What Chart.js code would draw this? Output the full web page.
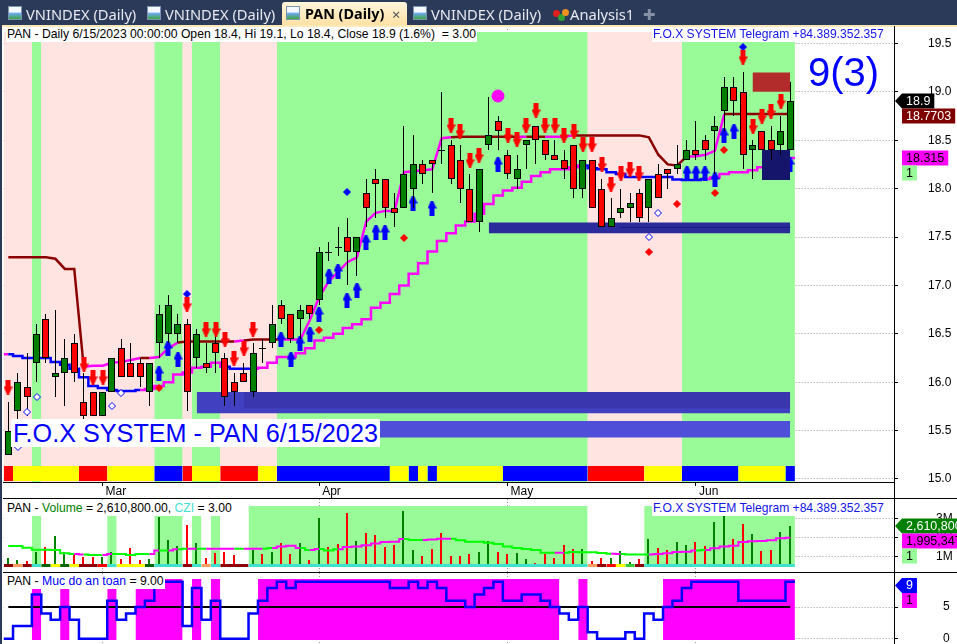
<!DOCTYPE html>
<html>
<head>
<meta charset="utf-8">
<title>PAN (Daily)</title>
<script src="https://cdn.jsdelivr.net/npm/chart.js@4/dist/chart.umd.min.js"></script>
<style>
    html, body { margin: 0; padding: 0; background: #fff; overflow: hidden; }
    #page { position: relative; width: 957px; height: 644px; overflow: hidden; font-family: "Liberation Sans", Arial, sans-serif; }
    canvas { position: absolute; left: 0; }
    .tabbar { position: absolute; left: 0; top: 0; width: 957px; height: 25px; background: #2c3a5a; }
    .tabline { position: absolute; left: 0; top: 25px; width: 957px; height: 2px; background: #ffe9b8; }
    .tab { position: absolute; top: 4px; font: 14.7px/20px "Noto Sans", sans-serif; color: #e6e9f0; white-space: nowrap; }
    .tab.active { color: #000; font-weight: bold; font-size: 14.4px; }
    .activebg { position: absolute; left: 282px; top: 2px; width: 125px; height: 24px; background: linear-gradient(#fff6dc, #ffe0a2); border-radius: 3px 3px 0 0; }
    .icon { position: absolute; top: 6px; width: 14px; height: 14px; background: linear-gradient(#f4f8ff 40%, #6aa6e8 55%, #3ca83c); border: 1px solid #7d92b5; box-sizing: border-box; }
    .dot { position: absolute; width: 7px; height: 7px; border-radius: 50%; }
    .hdr { position: absolute; background: #fff; font-size: 12.2px; line-height: 15px; height: 15px; white-space: nowrap; color: #000; padding: 0 1px; }
    .blue { color: #1414e6; font-size: 12.1px; }
    .hline, .vline { position: absolute; background: #000; }
    #waves { position: absolute; left: 808px; top: 48px; font-size: 40px; line-height: 48px; color: #0000ff; }
    #stamp { position: absolute; left: 11px; top: 419px; height: 28px; line-height: 28px; width: 369px; background: #fff; color: #0000ff; font-size: 25.2px; white-space: nowrap; padding-left: 2px; box-sizing: border-box; }
</style>
</head>
<body>
<div id="page">
    <canvas id="priceChart" width="957" height="456" style="top:26px"></canvas>
    <canvas id="monthChart" width="957" height="16" style="top:482px"></canvas>
    <canvas id="volumeChart" width="957" height="73" style="top:499px"></canvas>
    <canvas id="safetyChart" width="957" height="71" style="top:573px"></canvas>

    <div class="tabbar"></div>
    <div class="activebg"></div>
    <div class="tabline"></div>
    <div class="icon" style="left:8px"></div><div class="tab" style="left:26px">VNINDEX (Daily)</div>
    <div class="icon" style="left:147px"></div><div class="tab" style="left:165px">VNINDEX (Daily)</div>
    <div class="icon" style="left:286px"></div><div class="tab active" style="left:305px">PAN (Daily)</div>
    <div class="tab" style="left:392px;color:#555">×</div>
    <div class="icon" style="left:413px"></div><div class="tab" style="left:431px">VNINDEX (Daily)</div>
    <div class="dot" style="left:553px;top:10px;background:#e02020"></div>
    <div class="dot" style="left:558px;top:14px;background:#30a030"></div>
    <div class="dot" style="left:562px;top:9px;background:#f09020"></div>
    <div class="tab" style="left:570px">Analysis1</div>
    <div class="tab" style="left:643px;color:#8490a8">✚</div>

    <div class="vline" style="left:0;top:25px;width:2px;height:619px;background:#2c3a5a"></div>

    <div class="hdr" style="left:6px;top:27px">PAN - Daily 6/15/2023 00:00:00 Open 18.4, Hi 19.1, Lo 18.4, Close 18.9 (1.6%) &nbsp;= 3.00</div>
    <div class="hdr blue" style="left:652px;top:27px">F.O.X SYSTEM Telegram +84.389.352.357</div>
    <div id="waves">9(3)</div>
    <div id="stamp">F.O.X SYSTEM - PAN 6/15/2023</div>

    <div class="hdr" style="left:6px;top:501px">PAN - <span style="color:#008000">Volume</span> = 2,610,800.00, <span style="color:#40e0d0">CZI</span> = 3.00</div>
    <div class="hdr blue" style="left:652px;top:501px">F.O.X SYSTEM Telegram +84.389.352.357</div>
    <div class="hdr" style="left:6px;top:574px">PAN - <span style="color:#0000ff">Muc do an toan</span> = 9.00</div>

    <div class="hline" style="left:3px;top:482px;width:891px;height:1px"></div>
    <div class="hline" style="left:3px;top:498px;width:954px;height:1px"></div>
    <div class="hline" style="left:3px;top:572px;width:954px;height:1px"></div>
    <div class="vline" style="left:894px;top:26px;width:1px;height:618px"></div>
</div>

<script>
// Candles, one entry per session (bar index 0 = first bar on the chart)
const candleOpen = [15.25,15.7,15.95,16.2,16.65,16.05,16.1,16.4,15.8,15.9,15.65,15.9,16.35,16.2,16.2,15.9,16.4,16.5,16.5,16.6,16.25,16.2,16.4,16.25,16.0,16.1,15.9,16.35,16.4,16.8,16.7,16.65,16.8,16.85,17.35,17.4,17.5,17.35,17.95,18.1,18.1,17.8,17.8,18.0,18.25,18.3,18.4,18.45,18.3,18.0,17.65,18.45,18.7,18.35,18.1,18.45,18.65,18.5,18.35,18.3,18.45,18.0,18.3,18.0,17.6,17.75,17.8,17.95,17.8,18.15,18.2,18.2,18.3,18.4,18.5,18.6,18.8,19.05,19.0,18.4,18.6,18.5,18.45,18.4];
const candleHigh = [15.8,16.1,16.3,16.6,16.7,16.75,16.45,16.5,16.1,15.9,15.9,16.25,16.45,16.4,16.25,16.2,16.8,16.9,16.7,16.65,16.55,16.4,16.5,16.3,16.1,16.2,16.4,16.45,16.8,16.85,16.7,16.8,16.8,17.4,17.45,17.6,17.7,17.5,18.1,18.2,18.1,17.95,18.65,18.55,18.3,18.3,19.0,18.5,18.45,18.15,18.2,18.95,18.75,18.4,18.35,18.5,18.65,18.5,18.5,18.4,18.45,18.3,18.3,18.1,17.9,18.0,17.95,18.0,18.1,18.25,18.2,18.45,18.5,18.7,18.55,18.75,19.15,19.15,19.2,18.5,18.6,18.65,18.75,19.1];
const candleLow = [15.25,15.55,15.65,16.0,16.2,15.85,15.75,16.0,15.55,15.65,15.65,15.9,16.05,16.05,15.95,15.75,16.25,16.4,16.4,15.7,16.15,16.1,16.1,15.75,15.75,16.0,15.85,16.2,16.35,16.6,16.4,16.45,16.65,16.8,17.25,17.3,17.0,17.1,17.6,17.7,17.7,17.6,17.8,17.8,18.05,17.95,18.25,18.05,17.85,17.65,17.55,18.4,18.4,18.1,18.0,18.2,18.25,18.3,18.3,18.1,17.9,17.9,17.8,17.6,17.6,17.7,17.65,17.65,17.65,17.9,18.0,18.15,18.3,18.3,18.3,18.15,18.6,18.75,18.2,18.1,18.4,18.3,18.35,18.4];
const candleClose = [15.5,16.0,15.85,16.5,16.25,16.1,16.25,16.1,15.65,15.65,15.9,16.25,16.05,16.05,16.05,16.2,16.7,16.8,16.6,15.9,16.5,16.15,16.3,15.85,15.9,16.0,16.3,16.35,16.6,16.65,16.45,16.75,16.7,17.35,17.35,17.4,17.35,17.5,17.8,18.05,17.8,17.75,18.15,18.25,18.15,18.25,18.4,18.1,18.0,17.65,18.2,18.55,18.6,18.15,18.2,18.5,18.5,18.35,18.3,18.2,18.0,18.3,17.8,17.6,17.7,17.8,17.85,17.7,18.1,17.9,18.15,18.25,18.4,18.35,18.4,18.65,19.05,18.9,18.35,18.45,18.4,18.4,18.6,18.9];

// Trailing lines on the price pane
const upperLine = [17.29,17.29,17.29,17.29,17.29,17.275,17.17,17.17,16.16,16.17,16.17,16.2,16.21,16.23,16.25,16.25,16.26,16.35,16.41,16.42,16.42,16.42,16.42,16.42,16.42,16.43,16.44,16.44,16.44,16.44,16.44,16.44,16.64,16.88,17.04,17.14,17.24,17.29,17.66,17.75,17.77,17.77,18.17,18.18,18.19,18.2,18.52,18.53,18.535,18.535,18.535,18.535,18.535,18.535,18.535,18.535,18.535,18.535,18.535,18.535,18.55,18.55,18.55,18.55,18.55,18.55,18.55,18.55,18.53,18.35,18.25,18.24,18.33,18.335,18.35,18.39,18.77,18.77,18.77,18.77,18.77,18.77,18.77,18.77];
const lowerLine = [16.29,16.27,16.25,16.25,16.25,16.21,16.18,16.14,16.05,15.96,15.94,15.92,15.91,15.91,15.92,15.93,15.96,16.0,16.08,16.1,16.15,16.16,16.2,16.16,16.14,16.14,16.14,16.15,16.2,16.26,16.26,16.3,16.35,16.43,16.46,16.5,16.56,16.6,16.65,16.77,16.82,16.91,17.0,17.12,17.23,17.35,17.46,17.54,17.62,17.66,17.74,17.84,17.93,17.98,18.01,18.07,18.13,18.17,18.2,18.2,18.22,18.24,18.21,18.2,18.17,18.15,18.12,18.12,18.12,18.12,18.12,18.095,18.09,18.09,18.1,18.115,18.15,18.17,18.17,18.19,18.22,18.225,18.27,18.315];
const upperMagenta = [[8,13],[15,17],[24,24],[29,46],[54,54],[57,59],[72,75]];
const lowerBlue = [[0,13],[23,25],[61,73]];

// Signal markers: bar index and price
const sellIdx = [0,8,9,10,19,21,22,23,24,25,26,47,48,49,50,53,54,55,56,57,58,59,60,61,62,63,64,65,66,67,78,79,80,81,82];
const sellVal = [15.95,16.19,16.05,16.05,16.81,16.55,16.55,16.45,16.25,16.35,16.55,18.66,18.6,18.3,18.35,18.55,18.51,18.66,18.81,18.66,18.66,18.55,18.6,18.46,18.46,18.25,18.05,18.16,18.2,18.16,19.36,18.65,18.75,18.8,18.9];
const buyIdx = [16,17,18,29,30,31,32,33,34,35,36,37,38,39,40,43,45,52,72,73,74,75,76,77,83];
const buyVal = [16.1,16.35,16.24,16.45,16.24,16.4,16.5,16.7,17.1,17.15,16.85,16.95,17.45,17.55,17.55,17.85,17.8,18.25,18.16,18.16,18.16,18.1,18.55,18.6,18.25];
const hollowIdx = [1,2,3,11,12,68,69];
const hollowVal = [15.33,15.69,15.85,15.75,15.89,17.5,17.75];
const redDiamondIdx = [16,33,42,68,71,75,76];
const redDiamondVal = [15.94,16.54,17.49,17.35,17.84,17.95,18.4];
const blueDiamondIdx = [19,36,78];
const blueDiamondVal = [16.91,17.96,19.46];
const pinkDotIdx = [52];
const pinkDotVal = [18.96];

// Background state of each pane, as inclusive bar ranges
const lastBar = 83;
const priceGreen = [[3,3],[16,18],[20,22],[29,61],[72,83]];
const volumeGreen = [[3,3],[11,11],[16,18],[20,20],[22,22],[26,61],[68,83]];

// Coloured strip at the bottom of the price pane
const stripRed = [[0,0],[8,10],[19,19],[23,26],[62,67]];
const stripYellow = [[1,7],[11,15],[20,22],[27,28],[41,42],[44,44],[46,52],[68,71],[78,82]];
const stripBlue = [[16,18],[29,40],[43,43],[45,45],[53,61],[72,77],[83,83]];

// Support and resistance boxes: first bar, last bar, low, high
const boxFrom = [20,25,36,51,79,80];
const boxTo = [83,83,83,83,83,83];
const boxLow = [15.68,15.73,15.43,17.54,19.0,18.09];
const boxHigh = [15.9,15.9,15.6,17.65,19.2,18.4];
const boxColors = ['#4040c0','#3a36ae','#4e4ed8','#2b2b9b','#b22c2c','#15156b'];

// Volume pane, values in millions of shares
const volume = [0.89,0.81,0.75,1.24,1.47,2.07,1.23,1.12,0.95,0.95,0.95,1.23,0.86,1.44,0.81,0.86,3.07,1.86,1.54,2.65,1.7,0.91,1.17,1.23,1.07,0.5,1.33,1.12,1.23,1.68,1.12,1.7,0.81,3.03,1.47,1.65,3.28,1.8,2.23,2.12,1.49,1.6,3.38,1.33,1.02,1.38,2.23,1.02,1.02,1.12,1.23,1.8,1.23,1.12,1.17,0.86,0.65,1.12,0.91,1.6,1.38,1.38,0.75,0.91,0.91,1.28,0.7,0.86,1.91,1.44,1.33,1.75,1.6,1.75,1.54,2.8,3.12,1.91,2.7,2.17,1.28,1.33,2.28,2.61];
const volumeAvg = [1.54,1.54,1.45,1.35,1.35,1.33,1.16,1.12,1.10,1.07,1.07,1.12,1.12,1.07,1.12,1.12,1.30,1.30,1.37,1.40,1.40,1.40,1.40,1.40,1.40,1.40,1.40,1.40,1.44,1.51,1.56,1.44,1.33,1.38,1.31,1.37,1.49,1.51,1.58,1.68,1.75,1.77,1.91,1.86,1.86,1.89,1.93,1.93,1.84,1.77,1.77,1.72,1.65,1.52,1.44,1.38,1.33,1.19,1.19,1.19,1.23,1.21,1.21,1.17,1.14,1.12,1.09,1.09,1.09,1.12,1.16,1.23,1.24,1.30,1.33,1.42,1.52,1.56,1.75,1.79,1.81,1.84,1.95,1.98];
const volumeUp = [0,1,3,5,6,10,11,15,16,17,18,20,26,28,31,33,37,42,43,50,51,54,55,61,64,65,66,68,71,72,75,76,79,82,83];
const avgMagenta = [[7,7],[10,10],[15,15],[17,17],[19,19],[21,23],[25,26],[28,30],[32,32],[35,41],[44,46],[58,58],[64,64],[68,72],[74,83]];
const volStripDarkRed = [[0,0],[2,2],[8,9],[19,19],[23,25],[63,63],[67,67]];
const volStripOrange = [[1,1],[21,21],[62,62]];
const volStripRed = [[10,10],[64,64]];
const volStripDarkGreen = [[4,4],[6,6],[15,15]];
const volStripYellow = [[5,5],[7,7],[12,14],[65,65]];
const volStripGreen = [[66,66]];
const volStripTurquoise = [[3,3],[11,11],[16,18],[20,20],[22,22],[26,61],[68,83]];

// Muc do an toan pane
const safety = [0,2,2,7,4,3,5,3,0,0,0,6,3,4,5,6,9,9,9,2,8,3,6,0,0,0,4,6,8,9,8,9,9,9,9,9,9,9,9,9,9,8,8,9,8,9,8,6,6,5,7,8,9,6,6,7,7,6,5,4,3,5,1,0,0,0,1,0,4,3,5,6,8,9,9,9,9,9,6,6,6,6,6,9];
const safetyZones = [[3,3],[6,6],[11,11],[14,18],[20,20],[22,22],[27,58],[61,61],[70,83]];
const safetyLevel = [5,5];
const safetyLevelBars = [0,83];

// Axis ticks
const priceTicks = [15,15.5,16,16.5,17,17.5,18,18.5,19,19.5];
const volumeTicks = [1,2,3];
const volumeTickLabels = ['1M','2M','3M'];
const safetyTicks = [0,5];
const monthBars = [10,33,53,73];
const monthLabels = ['Mar','Apr','May','Jun'];

// Tags in the right margin
const priceTagTexts = ['18.9','18.7703','18.315','1'];
const priceTagValues = [18.9,18.7703,18.315,18.315];
const volumeTagTexts = ['2,610,800','1,995,347','1'];
const volumeTagValues = [2.61,1.995,1.995];
const safetyTagTexts = ['9','1'];
const safetyTagValues = [9,9];

const RED = '#ff0000', GREEN = '#008000', BLUE = '#0000ff', MAGENTA = '#ff00ff', DARKRED = '#8b0000';
const PALEGREEN = '#98fb98', MISTY = '#ffe4e1', TURQUOISE = '#40e0d0';
const FONT = { family: '"Liberation Sans", Arial, sans-serif', size: 12 };
const X_MIN = -0.5, X_MAX = 94.02;

// Build a small arrow bitmap used as a point style
function makeArrow(color, up) {
    const c = document.createElement('canvas');
    c.width = 9; c.height = 15;
    const g = c.getContext('2d');
    if (!up) { g.translate(0, 15); g.scale(1, -1); }
    g.fillStyle = color;
    g.beginPath();
    g.moveTo(3.5, 0); g.lineTo(5.5, 0); g.lineTo(9, 8); g.lineTo(7, 8); g.lineTo(7, 15);
    g.lineTo(2, 15); g.lineTo(2, 8); g.lineTo(0, 8);
    g.closePath();
    g.fill();
    return c;
}

// Filled rectangle in data units, done as a line dataset filled down to a value
function fillBand(from, to, low, high, color, order) {
    return {
        type: 'line', order,
        data: [{ x: from, y: high }, { x: to, y: high }],
        fill: { value: low },
        backgroundColor: color, borderWidth: 0, pointRadius: 0
    };
}

function rangeBands(ranges, low, high, color, order) {
    return ranges.map(r => fillBand(r[0] - 0.5, r[1] + 0.5, low, high, color, order));
}

function inRanges(ranges, i) {
    return ranges.some(r => i >= r[0] && i <= r[1]);
}

function markers(idx, val, style, radius, fillColor, edgeColor, order) {
    return {
        type: 'scatter', order,
        data: idx.map((x, k) => ({ x, y: val[k] })),
        pointStyle: style, pointRadius: radius,
        backgroundColor: fillColor, borderColor: edgeColor, borderWidth: 1
    };
}

// Stepped lines run from the left edge of the first bar to the right edge of the last
function stepPoints(values) {
    const pts = values.map((y, x) => ({ x, y }));
    return [{ x: -0.5, y: values[0] }, ...pts, { x: lastBar + 0.5, y: values[values.length - 1] }];
}

function xAxis() {
    return {
        type: 'linear', min: X_MIN, max: X_MAX, offset: false,
        afterBuildTicks: s => { s.ticks = monthBars.map(value => ({ value })); },
        afterFit: s => { s.height = 0; s.paddingLeft = 0; s.paddingRight = 0; },
        border: { display: false, dash: [1, 2] },
        grid: { offset: false, color: '#999', drawTicks: false },
        ticks: { display: false }
    };
}

function yAxis(min, max, tickValues, padding, format) {
    return {
        type: 'linear', position: 'right', min, max,
        afterBuildTicks: s => { s.ticks = tickValues.map(value => ({ value })); },
        afterFit: s => { s.width = 63; s.paddingTop = 0; s.paddingBottom = 0; },
        border: { display: false, dash: [1, 2] },
        grid: { color: '#999', tickLength: 4, tickColor: '#000', tickBorderDash: [] },
        ticks: { crossAlign: 'near', padding, color: '#000', font: FONT, callback: format }
    };
}

// Snap bars and markers to whole pixels so they stay sharp
const crispPlugin = {
    id: 'crisp',
    afterDatasetsUpdate(chart) {
        chart.getSortedVisibleDatasetMetas().forEach(meta => {
            if (meta.type === 'bar') {
                meta.data.forEach(el => {
                    el.x = Math.floor(el.x) + (el.width % 2 ? 0.5 : 0);
                    el.y = Math.round(el.y);
                    el.base = Math.round(el.base);
                    if (el.base - el.y < 1) el.base = el.y + 1;
                });
            } else if (meta.type === 'scatter') {
                meta.data.forEach(el => {
                    el.x = Math.round(el.x);
                    el.y = Math.round(el.y);
                });
            }
        });
    }
};

// Value tags in the right margin, each pushed below the one before it
const tagsPlugin = {
    id: 'tags',
    afterDraw(chart, args, opts) {
        if (!opts.texts) return;
        const ctx = chart.ctx;
        const yScale = chart.scales.y;
        let bottom = opts.top === undefined ? -100 : opts.top;
        ctx.save();
        ctx.font = '12.5px "Liberation Sans", Arial, sans-serif';
        ctx.textBaseline = 'middle';
        opts.texts.forEach((text, k) => {
            const h = 15;
            const y = Math.max(Math.round(yScale.getPixelForValue(opts.values[k])) - h / 2, bottom);
            const width = ctx.measureText(text).width + 8;
            const left = 902;
            ctx.fillStyle = opts.fills[k];
            ctx.fillRect(left, y, width, h);
            if (opts.arrow && k === 0) {
                ctx.beginPath();
                ctx.moveTo(895, y + h / 2);
                ctx.lineTo(902, y);
                ctx.lineTo(902, y + h);
                ctx.closePath();
                ctx.fill();
            }
            ctx.fillStyle = opts.inks[k];
            ctx.fillText(text, left + 4, y + h / 2 + 0.5);
            bottom = y + h;
        });
        ctx.restore();
    }
};

function baseOptions(scales, tags) {
    return {
        responsive: false, animation: false, events: [],
        layout: { autoPadding: false, padding: { left: 3.6 } },
        scales,
        plugins: { legend: { display: false }, tooltip: { enabled: false }, tags },
        elements: { line: { borderJoinStyle: 'miter', borderCapStyle: 'butt' } }
    };
}

// Price pane
function drawPrice() {
    const xs = candleOpen.map((_, i) => i);
    const yMin = 14.969, yMax = 19.68, zoneTop = 19.617;
    const datasets = [
        fillBand(-0.5, lastBar + 0.5, yMin, zoneTop, MISTY, 100),
        ...rangeBands(priceGreen, yMin, zoneTop, PALEGREEN, 99),
        ...rangeBands(stripRed, 14.98, 15.135, RED, 98),
        ...rangeBands(stripYellow, 14.98, 15.135, '#ffff00', 98),
        ...rangeBands(stripBlue, 14.98, 15.135, BLUE, 98),
        {
            type: 'line', order: 60, data: xs.map(x => ({ x, y: upperLine[x] })),
            pointRadius: 0, borderWidth: 2.5, borderColor: DARKRED,
            segment: { borderColor: c => inRanges(upperMagenta, c.p0DataIndex) ? MAGENTA : DARKRED }
        },
        {
            type: 'line', order: 60, data: stepPoints(lowerLine), stepped: 'middle',
            pointRadius: 0, borderWidth: 2.5, borderColor: MAGENTA,
            segment: { borderColor: c => inRanges(lowerBlue, c.p0DataIndex - 1) ? BLUE : MAGENTA }
        },
        ...boxFrom.map((from, k) => fillBand(from, boxTo[k], boxLow[k], boxHigh[k], boxColors[k], 50 - k)),
        {
            type: 'line', order: 43, data: [{ x: 65, y: 17.6 }, { x: lastBar, y: 17.6 }],
            pointRadius: 0, borderWidth: 1, borderColor: '#1b1b7b'
        },
        {
            type: 'bar', order: 40, grouped: false, barThickness: 1, inflateAmount: 0,
            data: xs.map(x => ({ x, y: [candleLow[x], candleHigh[x]] })),
            backgroundColor: '#000'
        },
        {
            type: 'bar', order: 30, grouped: false, barThickness: 7, inflateAmount: 0,
            data: xs.map(x => ({ x, y: [candleOpen[x], candleClose[x]] })),
            backgroundColor: xs.map(x => candleClose[x] > candleOpen[x] ? GREEN : candleClose[x] < candleOpen[x] ? RED : '#000'),
            borderColor: '#000', borderWidth: 1, borderSkipped: false
        },
        markers(sellIdx, sellVal, makeArrow(RED, false), 5, RED, RED, 20),
        markers(buyIdx, buyVal, makeArrow(BLUE, true), 5, BLUE, BLUE, 55),
        markers(hollowIdx, hollowVal, 'rectRot', 3.5, '#fff', BLUE, 20),
        markers(redDiamondIdx, redDiamondVal, 'rectRot', 3.5, RED, RED, 20),
        markers(blueDiamondIdx, blueDiamondVal, 'rectRot', 3.5, BLUE, BLUE, 20),
        markers(pinkDotIdx, pinkDotVal, 'circle', 6, MAGENTA, MAGENTA, 20)
    ];
    new Chart(document.getElementById('priceChart'), {
        type: 'bar',
        data: { datasets },
        options: baseOptions(
            { x: xAxis(), y: yAxis(yMin, yMax, priceTicks, 30, v => v.toFixed(1)) },
            {
                texts: priceTagTexts, values: priceTagValues, arrow: true,
                fills: ['#000', '#7f0000', MAGENTA, PALEGREEN], inks: ['#fff', '#fff', '#000', '#000']
            }
        ),
        plugins: [crispPlugin, tagsPlugin]
    });
}

// Month axis strip between the price and volume panes
function drawMonths() {
    new Chart(document.getElementById('monthChart'), {
        type: 'scatter',
        data: { datasets: [] },
        options: {
            responsive: false, animation: false, events: [],
            layout: { autoPadding: false, padding: { left: 3.6, right: 63 } },
            plugins: { legend: { display: false }, tooltip: { enabled: false } },
            scales: {
                y: { display: false },
                x: {
                    type: 'linear', min: X_MIN, max: X_MAX,
                    afterBuildTicks: s => { s.ticks = monthBars.map(value => ({ value })); },
                    afterFit: s => { s.height = 16; s.paddingLeft = 0; s.paddingRight = 0; },
                    border: { display: false },
                    grid: { drawOnChartArea: false, tickLength: 4, tickColor: '#000' },
                    ticks: {
                        autoSkip: false, maxRotation: 0, align: 'start', labelOffset: 3,
                        padding: -2, color: '#000', font: FONT,
                        callback: (v, i) => monthLabels[i]
                    }
                }
            }
        }
    });
}

// Volume pane
function drawVolume() {
    const xs = volume.map((_, i) => i);
    const yMin = 0.174, yMax = 4.016, zoneTop = 3.647, zoneBottom = 0.437, stripTop = 0.595;
    const datasets = [
        fillBand(-0.5, lastBar + 0.5, zoneBottom, zoneTop, '#fff', 100),
        ...rangeBands(volumeGreen, zoneBottom, zoneTop, PALEGREEN, 99),
        {
            type: 'bar', order: 50, grouped: false, barThickness: 2, inflateAmount: 0,
            data: xs.map(x => ({ x, y: [zoneBottom, volume[x]] })),
            backgroundColor: xs.map(x => volumeUp.includes(x) ? GREEN : RED)
        },
        ...rangeBands(volStripDarkRed, zoneBottom, stripTop, DARKRED, 40),
        ...rangeBands(volStripOrange, zoneBottom, stripTop, '#ffa060', 40),
        ...rangeBands(volStripRed, zoneBottom, stripTop, RED, 40),
        ...rangeBands(volStripDarkGreen, zoneBottom, stripTop, '#006400', 40),
        ...rangeBands(volStripYellow, zoneBottom, stripTop, '#ffff00', 40),
        ...rangeBands(volStripGreen, zoneBottom, stripTop, '#32cd32', 40),
        ...rangeBands(volStripTurquoise, zoneBottom, stripTop, TURQUOISE, 40),
        {
            type: 'line', order: 30, data: xs.map(x => ({ x, y: volumeAvg[x] })), stepped: 'middle',
            pointRadius: 0, borderWidth: 2, borderColor: '#00ff00',
            segment: { borderColor: c => inRanges(avgMagenta, c.p0DataIndex) ? MAGENTA : '#00ff00' }
        }
    ];
    new Chart(document.getElementById('volumeChart'), {
        type: 'bar',
        data: { datasets },
        options: baseOptions(
            { x: xAxis(), y: yAxis(yMin, yMax, volumeTicks, 38, (v, i) => volumeTickLabels[i]) },
            {
                texts: volumeTagTexts, values: volumeTagValues, arrow: true,
                fills: [GREEN, MAGENTA, PALEGREEN], inks: ['#fff', '#000', '#000']
            }
        ),
        plugins: [crispPlugin, tagsPlugin]
    });
}

// Muc do an toan pane
function drawSafety() {
    const yMin = -0.837, yMax = 10.379, zoneTop = 9.43, zoneBottom = -0.205;
    const datasets = [
        fillBand(-0.5, lastBar + 0.5, zoneBottom, zoneTop, '#fff', 100),
        ...rangeBands(safetyZones, zoneBottom, zoneTop, MAGENTA, 99),
        {
            type: 'line', order: 40, pointRadius: 0, borderWidth: 2, borderColor: '#000',
            data: safetyLevelBars.map((x, k) => ({ x, y: safetyLevel[k] }))
        },
        {
            type: 'line', order: 30, data: stepPoints(safety), stepped: 'middle',
            pointRadius: 0, borderWidth: 2.5, borderColor: BLUE
        }
    ];
    new Chart(document.getElementById('safetyChart'), {
        type: 'bar',
        data: { datasets },
        options: baseOptions(
            { x: xAxis(), y: yAxis(yMin, yMax, safetyTicks, 45, v => String(v)) },
            {
                texts: safetyTagTexts, values: safetyTagValues, arrow: true, top: 5,
                fills: [BLUE, MAGENTA], inks: ['#fff', '#000']
            }
        ),
        plugins: [crispPlugin, tagsPlugin]
    });
}

drawPrice();
drawMonths();
drawVolume();
drawSafety();
</script>
</body>
</html>
